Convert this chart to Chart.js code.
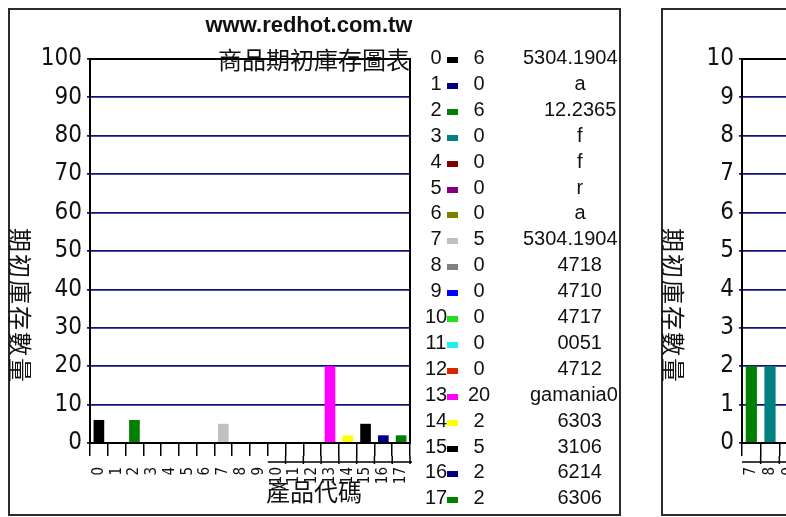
<!DOCTYPE html>
<html>
<head>
<meta charset="utf-8">
<script src="https://cdn.jsdelivr.net/npm/chart.js@4.4.1/dist/chart.umd.min.js"></script>
<style>
  html, body { margin: 0; padding: 0; width: 786px; height: 517px; overflow: hidden; background: #fff; }
  .frame { position: absolute; border: 2px solid #2b2b2b; box-sizing: border-box; pointer-events: none; }
  .box { position: absolute; top: 0; }
  .txt { position: absolute; white-space: nowrap; color: #111; line-height: 1; font-family: 'Liberation Sans', Arial, sans-serif; }
  .cjk { font-family: 'Noto Sans CJK TC', 'Noto Sans CJK SC', sans-serif; }
  .sw { position: absolute; width: 11px; height: 6px; }
</style>
</head>
<body>
<div class="frame" style="left:8px;top:8px;width:613px;height:508px"></div>
<div class="frame" style="left:661px;top:8px;width:220px;height:508px"></div>
<div class="box" style="left:0"><canvas id="chart1" width="620" height="517"></canvas></div>
<div class="box" style="left:662px"><canvas id="chart2" width="200" height="517"></canvas></div>
<div id="overlay"></div>
<script>
// left chart: product codes, opening stock, names shown in the legend
const codes = ['0', '1', '2', '3', '4', '5', '6', '7', '8', '9', '10', '11', '12', '13', '14', '15', '16', '17'];
const stock = [6, 0, 6, 0, 0, 0, 0, 5, 0, 0, 0, 0, 0, 20, 2, 5, 2, 2];
const names = ['5304.1904', 'a', '12.2365', 'f', 'f', 'r', 'a', '5304.1904', '4718', '4710', '4717', '0051', '4712', 'gamania0', '6303', '3106', '6214', '6306'];
const barColors = ['#000000', '#000080', '#008000', '#008080', '#800000', '#800080', '#808000', '#c0c0c0', '#808080', '#0000ff',
                   '#22dd22', '#22eeee', '#dd2200', '#ff00ff', '#ffff00', '#000000', '#000080', '#008000'];

// right chart (cut off by the window)
const codes2 = ['7', '8', '9'];
const stock2 = [2, 2, null];
const barColors2 = ['#008000', '#008080', '#800000'];

const mainTitle = 'www.redhot.com.tw';
const subTitle = '商品期初庫存圖表';
const xTitle = '產品代碼';
const yTitle = '期初庫存數量';

const tickFont = "'Liberation Sans Narrow', 'DejaVu Sans Condensed', 'Liberation Sans', Arial, sans-serif";

// black box around the plot area
const plotBox = {
    id: 'plotBox',
    afterDatasetsDraw(chart) {
        const { ctx, chartArea: a } = chart;
        ctx.save();
        ctx.strokeStyle = '#000';
        ctx.lineWidth = 2;
        ctx.strokeRect(a.left, a.top, a.right - a.left, a.bottom - a.top);
        ctx.restore();
    }
};

// second, lower tick row under the x axis
const lowAxis = {
    id: 'lowAxis',
    afterDraw(chart, args, opts) {
        if (opts.from == null) return;
        const sx = chart.scales.x, a = chart.chartArea, ctx = chart.ctx;
        const n = chart.data.labels.length;
        const edge = i => sx.getPixelForValue(i - 0.5);
        const y = a.bottom + 19;
        ctx.save();
        ctx.strokeStyle = '#000';
        ctx.lineWidth = 1.5;
        ctx.beginPath();
        ctx.moveTo(edge(opts.from), y);
        ctx.lineTo(edge(n) + 2, y);
        for (let i = opts.from + 1; i <= n; i++) {
            ctx.moveTo(edge(i), a.bottom + 13);
            ctx.lineTo(edge(i), y + 2);
        }
        ctx.stroke();
        ctx.restore();
    }
};

function makeChart(id, labels, values, colors, yMax, yStep, pad, lowFrom) {
    return new Chart(document.getElementById(id), {
        type: 'bar',
        data: { labels: labels, datasets: [{ data: values, backgroundColor: colors, borderWidth: 0, categoryPercentage: 1, barPercentage: 0.6 }] },
        options: {
            responsive: false,
            animation: false,
            layout: { padding: pad },
            plugins: { legend: { display: false }, tooltip: { enabled: false }, lowAxis: { from: lowFrom } },
            scales: {
                x: {
                    offset: true,
                    grid: { offset: true, drawOnChartArea: false, tickLength: 13, color: '#000', lineWidth: 1.5 },
                    border: { display: true, color: '#000', width: 2 },
                    ticks: { autoSkip: false, minRotation: 90, maxRotation: 90, padding: 11, color: '#111', font: { family: tickFont, size: 15 } },
                    afterFit(s) { s.height = 74; }
                },
                y: {
                    min: 0, max: yMax,
                    ticks: { stepSize: yStep, padding: 5, color: '#111', font: { family: tickFont, size: 24 } },
                    grid: { color: '#12127a', lineWidth: 1.8, tickLength: 3 },
                    border: { display: true, color: '#000', width: 2 },
                    afterFit(s) { s.width = 50; }
                }
            }
        },
        plugins: [plotBox, lowAxis]
    });
}

makeChart('chart1', codes, stock, barColors, 100, 10, { left: 40, top: 59, right: 210, bottom: 0 }, 10);
makeChart('chart2', codes2, stock2, barColors2, 10, 1, { left: 30, top: 59, right: 64, bottom: 0 }, 0);

// texts around the charts
const overlay = document.getElementById('overlay');
function addText(text, x, y, size, opts = {}) {
    const el = document.createElement('div');
    el.className = 'txt' + (opts.cjk ? ' cjk' : '');
    el.textContent = text;
    el.style.fontSize = size + 'px';
    if (opts.bold) el.style.fontWeight = 'bold';
    if (opts.spacing) el.style.letterSpacing = opts.spacing + 'px';
    overlay.appendChild(el);
    const w = el.offsetWidth;
    let left = x - w / 2;
    if (opts.maxRight != null && left + w > opts.maxRight) left = opts.maxRight - w;
    el.style.left = left + 'px';
    el.style.top = (y - el.offsetHeight / 2) + 'px';
    if (opts.rotate) el.style.transform = 'rotate(' + opts.rotate + 'deg)';
    return el;
}

addText(mainTitle, 309, 25, 22, { bold: true });
addText(subTitle, 314, 59, 24, { cjk: true });
addText(xTitle, 314, 491, 24, { cjk: true });
addText(yTitle, 21, 306, 24, { cjk: true, spacing: 2, rotate: 90 });
addText(yTitle, 674, 306, 24, { cjk: true, spacing: 2, rotate: 90 });

codes.forEach((c, i) => {
    const y = 57 + 25.9 * i;
    addText(c, 436, y, 20);
    const sw = document.createElement('div');
    sw.className = 'sw';
    sw.style.left = '447px';
    sw.style.top = Math.round(y) + 'px';
    sw.style.background = barColors[i];
    overlay.appendChild(sw);
    addText(String(stock[i]), 479, y, 20);
    addText(names[i], 580, y, 20, { maxRight: 618 });
});
</script>
</body>
</html>
